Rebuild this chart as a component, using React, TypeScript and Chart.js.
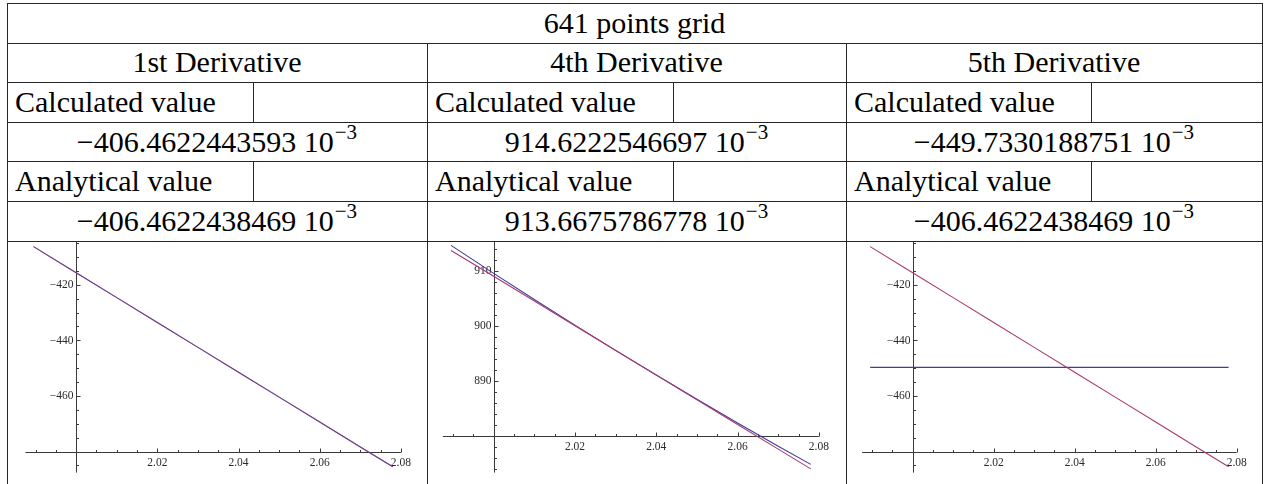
import React, { useEffect, useRef } from "react";
import { Chart, registerables } from "chart.js";

Chart.register(...registerables);

// ---------- table text ----------
const TITLE = "641 points grid";
const DERIVATIVES = ["1st Derivative", "4th Derivative", "5th Derivative"];
const CALC_LABEL = "Calculated value";
const ANALYTIC_LABEL = "Analytical value";
const CALC_VALUES = ["−406.4622443593", "914.6222546697", "−449.7330188751"];
const ANALYTIC_VALUES = ["−406.4622438469", "913.6675786778", "−406.4622438469"];
const EXPONENT = "−3";

// ---------- plot data ----------
const X_SAMPLES = [1.9895, 2.0, 2.01, 2.02, 2.03, 2.04, 2.05, 2.06, 2.07, 2.078];
const D1_CALC = [-406.3, -415.7, -424.65, -433.6, -442.55, -451.5, -460.45, -469.4, -478.35, -485.51];
const D1_ANALYTIC = [-406.3, -415.7, -424.65, -433.6, -442.55, -451.5, -460.45, -469.4, -478.35, -485.51];
const D4_CALC = [914.61, 909.52, 904.77, 900.1, 895.52, 891.03, 886.63, 882.32, 878.1, 874.79];
const D4_ANALYTIC = [913.69, 908.98, 904.49, 900.0, 895.51, 891.02, 886.53, 882.04, 877.56, 873.97];
const D5_CALC = [-449.73, -449.73, -449.73, -449.73, -449.73, -449.73, -449.73, -449.73, -449.73, -449.73];
const D5_ANALYTIC = [-406.3, -415.7, -424.65, -433.6, -442.55, -451.5, -460.45, -469.4, -478.35, -485.51];

// ---------- tick values / labels ----------
const X_MAJOR_TICKS = [2.0, 2.02, 2.04, 2.06, 2.08];
const X_MAJOR_LABELS = ["", "2.02", "2.04", "2.06", "2.08"];
const X_MINOR_TICKS = [1.99, 1.995, 2.005, 2.01, 2.015, 2.025, 2.03, 2.035, 2.045, 2.05, 2.055, 2.065, 2.07, 2.075];
const Y_MAJOR_TICKS_NEG = [-420, -440, -460, -480];
const Y_MAJOR_LABELS_NEG = ["−420", "−440", "−460", ""];
const Y_MINOR_TICKS_NEG = [-405, -410, -415, -425, -430, -435, -445, -450, -455, -465, -470, -475, -485];
const Y_MAJOR_TICKS_D4 = [910, 900, 890, 880];
const Y_MAJOR_LABELS_D4 = ["910", "900", "890", ""];
const Y_MINOR_TICKS_D4 = [914, 912, 908, 906, 904, 902, 898, 896, 894, 892, 888, 886, 884, 882, 878, 876, 874];

// ---------- layout ----------
const ROWS = [3, 42.6, 82.2, 121.8, 161.4, 201, 240.6];
const COLS = [7, 427, 846, 1262];
const SUBS = [253, 673, 1091];
const PAGE_H = 484;
const LINE = "#262626";
const TEXT_FONT = '"Liberation Serif", "DejaVu Serif", serif';

const BLUE = "#3d3d9e";
const RED = "#a83a6c";

const axesPlugin = {
  id: "mmaAxes",
  beforeDatasetsDraw(chart: any, _args: any, opts: any) {
    const ctx = chart.ctx;
    const xs = chart.scales.x;
    const ys = chart.scales.y;
    const ox = Math.round(xs.getPixelForValue(opts.originX)) + 0.5;
    const oy = Math.round(ys.getPixelForValue(opts.originY)) + 0.5;
    ctx.save();
    ctx.strokeStyle = "#3a3a3a";
    ctx.lineWidth = 1;
    ctx.beginPath();
    // x axis line
    ctx.moveTo(xs.getPixelForValue(opts.xFrom), oy);
    ctx.lineTo(xs.getPixelForValue(opts.xTo), oy);
    // y axis line
    ctx.moveTo(ox, ys.getPixelForValue(opts.yFrom));
    ctx.lineTo(ox, ys.getPixelForValue(opts.yTo));
    // x ticks (upwards)
    X_MAJOR_TICKS.forEach((v) => {
      const px = Math.round(xs.getPixelForValue(v)) + 0.5;
      ctx.moveTo(px, oy);
      ctx.lineTo(px, oy - 4);
    });
    X_MINOR_TICKS.forEach((v) => {
      const px = Math.round(xs.getPixelForValue(v)) + 0.5;
      ctx.moveTo(px, oy);
      ctx.lineTo(px, oy - 2.5);
    });
    // y ticks (to the right)
    opts.yMajor.forEach((v: number) => {
      const py = Math.round(ys.getPixelForValue(v)) + 0.5;
      ctx.moveTo(ox, py);
      ctx.lineTo(ox + 4, py);
    });
    opts.yMinor.forEach((v: number) => {
      const py = Math.round(ys.getPixelForValue(v)) + 0.5;
      ctx.moveTo(ox, py);
      ctx.lineTo(ox + 2.5, py);
    });
    ctx.stroke();
    // labels
    ctx.fillStyle = "#2a2a2a";
    ctx.font = '11.5px "Liberation Serif", "DejaVu Serif", serif';
    ctx.textAlign = "center";
    ctx.textBaseline = "top";
    X_MAJOR_TICKS.forEach((v, i) => {
      const lab = X_MAJOR_LABELS[i];
      if (!lab) return;
      ctx.fillText(lab, xs.getPixelForValue(v), oy + 4.5);
    });
    ctx.textAlign = "right";
    ctx.textBaseline = "middle";
    opts.yMajor.forEach((v: number, i: number) => {
      const lab = opts.yLabels[i];
      if (!lab) return;
      ctx.fillText(lab, ox - 3, ys.getPixelForValue(v) + 0.5);
    });
    ctx.restore();
  },
};

type PlotProps = {
  left: number;
  width: number;
  calc: number[];
  analytic: number[];
  xMin: number;
  xMax: number;
  yMin: number;
  yMax: number;
  originY: number;
  yAxisEnd: number;
  yMajor: number[];
  yLabels: string[];
  yMinor: number[];
  redColor: string;
};

function Plot(p: PlotProps) {
  const ref = useRef<HTMLCanvasElement | null>(null);
  useEffect(() => {
    if (!ref.current) return;
    const toPts = (arr: number[]) => X_SAMPLES.map((x, i) => ({ x, y: arr[i] }));
    const chart = new Chart(ref.current, {
      type: "line",
      data: {
        datasets: [
          {
            label: "Analytical",
            data: toPts(p.analytic),
            borderColor: p.redColor,
            borderWidth: 1.1,
            pointRadius: 0,
            tension: 0,
            fill: false,
          },
          {
            label: "Calculated",
            data: toPts(p.calc),
            borderColor: BLUE,
            borderWidth: 1.1,
            pointRadius: 0,
            tension: 0,
            fill: false,
          },
        ],
      },
      options: {
        animation: false,
        responsive: false,
        maintainAspectRatio: false,
        layout: { padding: 0 },
        events: [],
        scales: {
          x: { type: "linear", min: p.xMin, max: p.xMax, display: false },
          y: { type: "linear", min: p.yMin, max: p.yMax, display: false },
        },
        plugins: {
          legend: { display: false },
          tooltip: { enabled: false },
          mmaAxes: {
            originX: 2.0,
            originY: p.originY,
            xFrom: 1.9875,
            xTo: 2.08,
            yFrom: p.yMax,
            yTo: p.yAxisEnd,
            yMajor: p.yMajor,
            yLabels: p.yLabels,
            yMinor: p.yMinor,
          },
        } as any,
      },
      plugins: [axesPlugin as any],
    } as any);
    return () => chart.destroy();
  }, []);
  const top = 242;
  const h = PAGE_H - top;
  return (
    <canvas
      ref={ref}
      width={p.width}
      height={h}
      style={{ position: "absolute", left: p.left, top, width: p.width, height: h }}
    />
  );
}

function HLine({ x1, x2, y }: { x1: number; x2: number; y: number }) {
  return <div style={{ position: "absolute", left: x1, top: Math.round(y), width: x2 - x1 + 1, height: 1, background: LINE }} />;
}
function VLine({ x, y1, y2 }: { x: number; y1: number; y2: number }) {
  return <div style={{ position: "absolute", left: x, top: Math.round(y1), width: 1, height: Math.round(y2) - Math.round(y1) + 1, background: LINE }} />;
}

function Cell({ x1, x2, y1, y2, align, children }: any) {
  return (
    <div
      style={{
        position: "absolute",
        left: x1,
        top: y1,
        width: x2 - x1,
        height: y2 - y1,
        display: "flex",
        alignItems: "center",
        justifyContent: align === "left" ? "flex-start" : "center",
        paddingLeft: align === "left" ? 8 : 0,
        boxSizing: "border-box",
        fontFamily: TEXT_FONT,
        fontSize: 30,
        lineHeight: 1,
        color: "#000",
        whiteSpace: "nowrap",
      }}
    >
      {children}
    </div>
  );
}

function Num({ m }: { m: string }) {
  return (
    <span>
      {m}
      {"\u00a0"}10
      <span style={{ fontSize: "0.7em", position: "relative", top: "-0.6em", marginLeft: 1 }}>{EXPONENT}</span>
    </span>
  );
}

export default function App() {
  const plots: PlotProps[] = [
    {
      left: COLS[0] + 1,
      width: COLS[1] - COLS[0] - 1,
      calc: D1_CALC,
      analytic: D1_ANALYTIC,
      xMin: 1.98321,
      xMax: 2.08642,
      yMin: -491.69,
      yMax: -404.64,
      originY: -480,
      yAxisEnd: -487.6,
      yMajor: Y_MAJOR_TICKS_NEG,
      yLabels: Y_MAJOR_LABELS_NEG,
      yMinor: Y_MINOR_TICKS_NEG,
      redColor: "rgba(168,58,108,0.55)",
    },
    {
      left: COLS[1] + 1,
      width: COLS[2] - COLS[1] - 1,
      calc: D4_CALC,
      analytic: D4_ANALYTIC,
      xMin: 1.98384,
      xMax: 2.08667,
      yMin: 871.22,
      yMax: 915.22,
      originY: 880,
      yAxisEnd: 873.3,
      yMajor: Y_MAJOR_TICKS_D4,
      yLabels: Y_MAJOR_LABELS_D4,
      yMinor: Y_MINOR_TICKS_D4,
      redColor: RED,
    },
    {
      left: COLS[2] + 1,
      width: COLS[3] - COLS[2] - 1,
      calc: D5_CALC,
      analytic: D5_ANALYTIC,
      xMin: 1.98378,
      xMax: 2.08625,
      yMin: -491.69,
      yMax: -404.64,
      originY: -480,
      yAxisEnd: -487.6,
      yMajor: Y_MAJOR_TICKS_NEG,
      yLabels: Y_MAJOR_LABELS_NEG,
      yMinor: Y_MINOR_TICKS_NEG,
      redColor: RED,
    },
  ];

  const lines: React.ReactNode[] = [];
  ROWS.forEach((y, i) => lines.push(<HLine key={"h" + i} x1={COLS[0]} x2={COLS[3]} y={y} />));
  lines.push(<VLine key="vl" x={COLS[0]} y1={ROWS[0]} y2={PAGE_H} />);
  lines.push(<VLine key="vr" x={COLS[3]} y1={ROWS[0]} y2={PAGE_H} />);
  lines.push(<VLine key="c1" x={COLS[1]} y1={ROWS[1]} y2={PAGE_H} />);
  lines.push(<VLine key="c2" x={COLS[2]} y1={ROWS[1]} y2={PAGE_H} />);
  SUBS.forEach((x, i) => {
    lines.push(<VLine key={"s1" + i} x={x} y1={ROWS[2]} y2={ROWS[3]} />);
    lines.push(<VLine key={"s2" + i} x={x} y1={ROWS[4]} y2={ROWS[5]} />);
  });

  return (
    <div style={{ position: "absolute", left: 0, top: 0, width: 1265, height: PAGE_H, background: "#fff", overflow: "hidden" }}>
      <Cell x1={COLS[0]} x2={COLS[3]} y1={ROWS[0]} y2={ROWS[1]}>{TITLE}</Cell>
      {DERIVATIVES.map((d, i) => (
        <React.Fragment key={d}>
          <Cell x1={COLS[i]} x2={COLS[i + 1]} y1={ROWS[1]} y2={ROWS[2]}>{d}</Cell>
          <Cell x1={COLS[i]} x2={SUBS[i]} y1={ROWS[2]} y2={ROWS[3]} align="left">{CALC_LABEL}</Cell>
          <Cell x1={COLS[i]} x2={COLS[i + 1]} y1={ROWS[3]} y2={ROWS[4]}><Num m={CALC_VALUES[i]} /></Cell>
          <Cell x1={COLS[i]} x2={SUBS[i]} y1={ROWS[4]} y2={ROWS[5]} align="left">{ANALYTIC_LABEL}</Cell>
          <Cell x1={COLS[i]} x2={COLS[i + 1]} y1={ROWS[5]} y2={ROWS[6]}><Num m={ANALYTIC_VALUES[i]} /></Cell>
        </React.Fragment>
      ))}
      {plots.map((p, i) => (
        <Plot key={i} {...p} />
      ))}
      {lines}
    </div>
  );
}
